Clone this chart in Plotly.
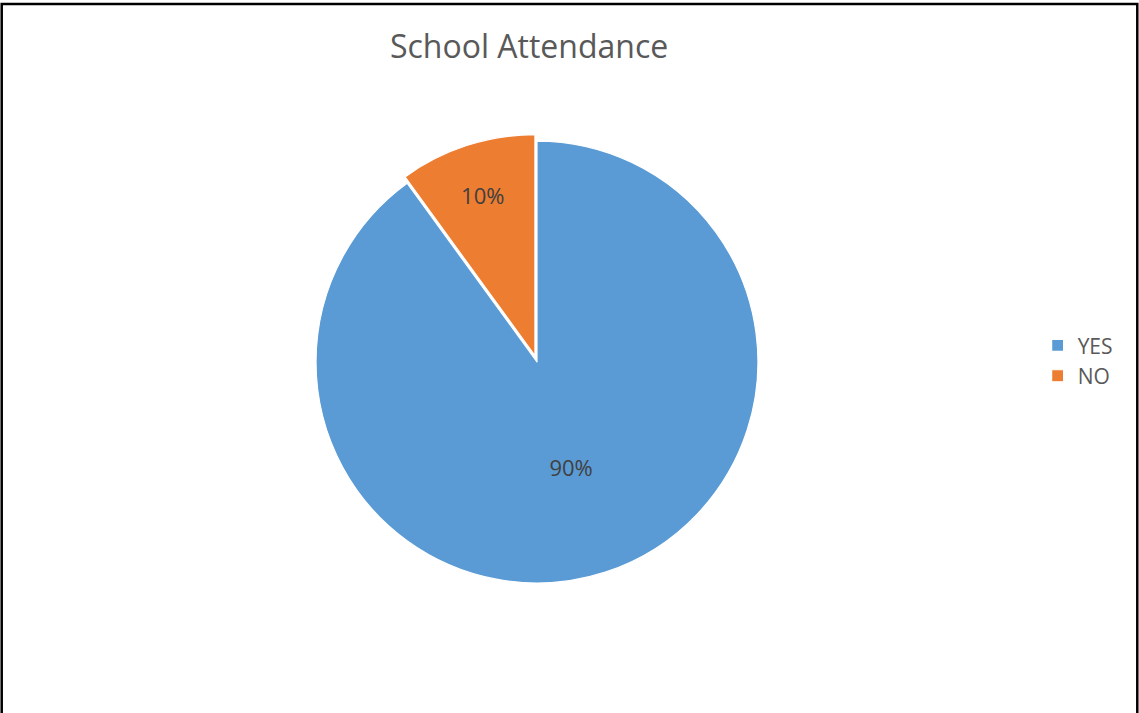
import plotly.graph_objects as go

labels = ["YES", "NO"]
values = [90, 10]
colors = ["#5B9BD5", "#ED7D31"]
pulls = [0, 0.03]
title_text = "School Attendance"

FONT = "Open Sans, Noto Sans, sans-serif"

fig = go.Figure(go.Pie(
    labels=labels,
    values=values,
    sort=False,
    direction="clockwise",
    rotation=0,
    pull=pulls,
    marker=dict(colors=colors, line=dict(color="white", width=1.2)),
    textinfo="percent",
    texttemplate="%{percent:.0%}",
    textposition="inside",
    insidetextorientation="horizontal",
    textfont=dict(family=FONT, size=22, color="#404040"),
    domain=dict(x=[0.2716, 0.6713], y=[0.1731, 0.8115]),
    hoverinfo="label+percent",
))

fig.update_layout(
    width=1139, height=713,
    margin=dict(l=0, r=0, t=0, b=0),
    paper_bgcolor="white",
    plot_bgcolor="white",
    title=dict(text=title_text, x=0.4645, y=0.934, xanchor="center", yanchor="middle",
               font=dict(family=FONT, size=32, color="#595959")),
    legend=dict(x=0.911, y=0.494, xanchor="left", yanchor="middle",
                font=dict(family=FONT, size=21, color="#595959"),
                itemwidth=30, bgcolor="rgba(0,0,0,0)"),
    shapes=[dict(type="rect", xref="paper", yref="paper",
                 x0=0.0015, x1=0.9985, y0=-0.05, y1=1 - 4 / 713,
                 line=dict(color="black", width=2.5), fillcolor="rgba(0,0,0,0)")],
)

fig.write_html("out.html",
               config={"displayModeBar": False},
               post_script="document.body.style.margin='0';document.body.style.overflow='hidden';")
